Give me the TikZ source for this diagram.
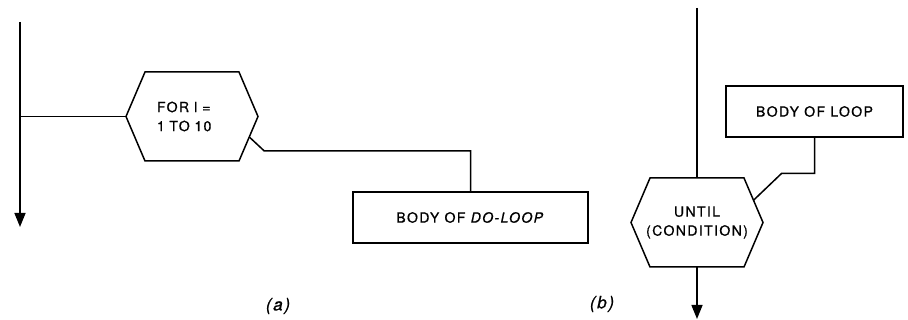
\documentclass[tikz,border=0pt]{standalone}
\usepackage{fontspec}
\setmainfont{TeX Gyre Heros}[LetterSpace=10,FakeBold=0.8]
\usetikzlibrary{arrows.meta,calc}
\tikzset{
  line/.style={line width=1.5pt, line join=miter},
  flow/.style={line, -{Triangle[length=14pt,width=11pt]}},
  hexbox/.style={rectangle, minimum width=132pt, minimum height=89pt,
    inner sep=0pt, outer sep=0pt, font=\fontsize{14}{19}\selectfont},
  bodybox/.style={draw, line width=1.5pt, rectangle, minimum height=51pt,
    inner sep=0pt, outer sep=0pt, font=\fontsize{14}{19}\selectfont},
  caption/.style={font=\fontsize{17}{20}\selectfont\itshape}
}
\newcommand\hexoutline[1]{%
  \draw[line] ([xshift=-47pt]#1.north) -- ([xshift=47pt]#1.north) -- (#1.east)
    -- ([xshift=47pt]#1.south) -- ([xshift=-47pt]#1.south) -- (#1.west) -- cycle;}
\begin{document}
\begin{tikzpicture}[x=1pt,y=-1pt]
\useasboundingbox (0,0) rectangle (908,320);
% (a)
\coordinate (topa) at (20,22);
\coordinate (bota) at (20,227);
\node[hexbox, text width=70pt, align=left] (ha) at (192,116.5) {FOR I =\\1 TO 10};
\hexoutline{ha}
\node[bodybox, minimum width=235pt] (ba) at (470.5,217.5) {BODY OF \textit{DO-LOOP}};
\draw[flow] (topa) -- (bota);
\draw[line] (ha.west) -- (ha.west -| topa);
\draw[line] ($(ha.east)!0.46!([xshift=47pt]ha.south)$) -- ++(15,14) -| (ba.north);
\node[caption] (capa) at (278,306) {(a)};
% (b)
\coordinate (topb) at (697,8);
\coordinate (botb) at (697,319);
\node[hexbox, align=center] (hb) at (697,222.5) {UNTIL\\(CONDITION)};
\hexoutline{hb}
\node[bodybox, minimum width=177pt] (bb) at (814.5,111.5) {BODY OF LOOP};
\draw[line] (topb) -- (hb.north);
\draw[flow] (hb.south) -- (botb);
\draw[line] (bb.south) -- ++(0,36.5) -- ++(-33,0) -- ($(hb.east)!0.5!([xshift=47pt]hb.north)$);
\node[caption] (capb) at (602,304) {(b)};
\end{tikzpicture}
\end{document}
